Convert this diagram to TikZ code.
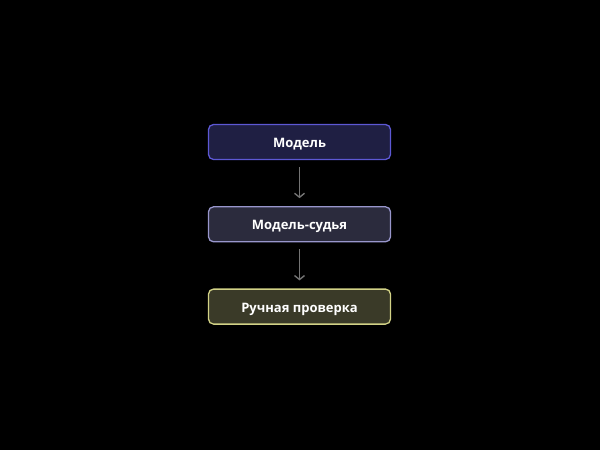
\documentclass[tikz,border=0pt]{standalone}
\usepackage{fontspec}
\setmainfont{Open Sans}
\usetikzlibrary{positioning,arrows.meta}

\definecolor{bgblack}{HTML}{000000}
\definecolor{modelfill}{HTML}{1F1F43}
\definecolor{modeldraw}{HTML}{5D58D4}
\definecolor{judgefill}{HTML}{2B2B3D}
\definecolor{judgedraw}{HTML}{9896CC}
\definecolor{checkfill}{HTML}{3A3A28}
\definecolor{checkdraw}{HTML}{D2D286}
\definecolor{arrowgray}{HTML}{747474}

\tikzset{
	stagebox/.style={rectangle, rounded corners=5bp, line width=1.3bp, minimum width=182bp, minimum height=35bp, text height=11bp, text depth=0bp, text=white, font=\fontsize{13bp}{15bp}\selectfont\bfseries},
	flowarrow/.style={draw=arrowgray, line width=1.4bp, shorten <=7bp, shorten >=8bp, -{Straight Barb[length=4bp,width=10bp]}}
}

\begin{document}
\begin{tikzpicture}[x=1bp, y=-1bp]
	% Background and boxes:
	\fill[bgblack] (0, 0) rectangle (600, 450);
	\useasboundingbox (0, 0) rectangle (600, 450);
	\node[stagebox, fill=modelfill, draw=modeldraw] (model) at (299.5, 142) {Модель};
	\node[stagebox, fill=judgefill, draw=judgedraw, below=46bp of model] (judge) {Модель-судья};
	\node[stagebox, fill=checkfill, draw=checkdraw, below=46bp of judge] (check) {Ручная проверка};
	% Arrows:
	\draw[flowarrow] (model) -- (judge);
	\draw[flowarrow] (judge) -- (check);
\end{tikzpicture}
\end{document}
